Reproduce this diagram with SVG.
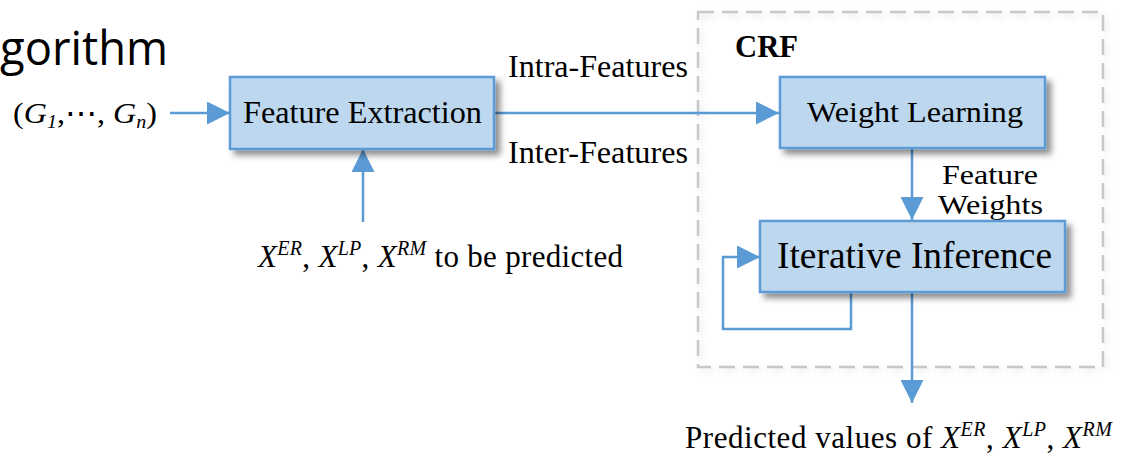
<svg xmlns="http://www.w3.org/2000/svg" width="1128" height="455" viewBox="0 0 1128 455">
<style>
.t{font-family:'Liberation Serif','DejaVu Serif','Times New Roman',serif;fill:#000}
.box{fill:#BDD7EE;stroke:#5B9BD5;stroke-width:2.5}
.ln{fill:none;stroke:#5B9BD5;stroke-width:2.5}
.i{font-style:italic}
</style>
<defs>
<filter id="sh" x="-10%" y="-20%" width="130%" height="150%">
<feDropShadow dx="5" dy="5" stdDeviation="3" flood-color="#000" flood-opacity="0.45"/>
</filter>
<filter id="sh2" x="-5%" y="-5%" width="110%" height="110%">
<feDropShadow dx="3" dy="3" stdDeviation="3" flood-color="#9bb0c8" flood-opacity="0.35"/>
</filter>
<marker id="ah" markerUnits="userSpaceOnUse" markerWidth="23" markerHeight="23" viewBox="0 0 23 23" refX="23" refY="11.5" orient="auto">
<path d="M0,0 L23,11.5 L0,23 Z" fill="#5B9BD5"/>
</marker>
</defs>
<rect width="1128" height="455" fill="#fff"/>
<text x="0" y="65" font-family="'Open Sans','Noto Sans',sans-serif" font-size="47" textLength="168" lengthAdjust="spacingAndGlyphs">gorithm</text>
<g id="crf">
<rect x="698" y="12" width="405" height="355" fill="none" stroke="#C8C8C8" stroke-width="2.5" stroke-dasharray="16,8" filter="url(#sh2)"/>
<text class="t" font-family="Liberation Serif, serif" x="735" y="57" font-size="31" font-weight="bold" textLength="63" lengthAdjust="spacingAndGlyphs">CRF</text>
</g>
<g id="connectors">
<line class="ln" x1="170" y1="113" x2="230" y2="113" marker-end="url(#ah)"/>
<line class="ln" x1="494" y1="113" x2="779" y2="113" marker-end="url(#ah)"/>
<line class="ln" x1="363" y1="222" x2="363" y2="149" marker-end="url(#ah)"/>
<line class="ln" x1="912" y1="148" x2="912" y2="220" marker-end="url(#ah)"/>
<polyline class="ln" points="851,292 851,329 723,329 723,257 760,257" marker-end="url(#ah)"/>
<line class="ln" x1="912" y1="292" x2="912" y2="403" marker-end="url(#ah)"/>
</g>
<g id="input">
<text class="t" font-family="Liberation Serif, serif" x="13" y="123" font-size="29" textLength="144" lengthAdjust="spacingAndGlyphs">(<tspan class="i">G</tspan><tspan class="i" font-size="18" dy="5">1</tspan><tspan dy="-5">,⋯, </tspan><tspan class="i">G</tspan><tspan class="i" font-size="18" dy="5">n</tspan><tspan dy="-5">)</tspan></text>
</g>
<g id="feature-extraction">
<rect class="box" x="230" y="77" width="264" height="72" filter="url(#sh)"/>
<text class="t" font-family="Liberation Serif, serif" x="243" y="123" font-size="31" textLength="239" lengthAdjust="spacingAndGlyphs">Feature Extraction</text>
</g>
<g id="labels">
<text class="t" font-family="Liberation Serif, serif" x="508" y="77" font-size="31" textLength="180" lengthAdjust="spacingAndGlyphs">Intra-Features</text>
<text class="t" font-family="Liberation Serif, serif" x="508" y="163" font-size="31" textLength="180" lengthAdjust="spacingAndGlyphs">Inter-Features</text>
<text class="t" font-family="Liberation Serif, serif" x="942" y="184" font-size="27" textLength="96" lengthAdjust="spacingAndGlyphs">Feature</text>
<text class="t" font-family="Liberation Serif, serif" x="938" y="214" font-size="27" textLength="105" lengthAdjust="spacingAndGlyphs">Weights</text>
</g>
<g id="weight-learning">
<rect class="box" x="780" y="77" width="265" height="71" filter="url(#sh)"/>
<text class="t" font-family="Liberation Serif, serif" x="807" y="122" font-size="30" textLength="216" lengthAdjust="spacingAndGlyphs">Weight Learning</text>
</g>
<g id="iterative-inference">
<rect class="box" x="760" y="221" width="305" height="71" filter="url(#sh)"/>
<text class="t" font-family="Liberation Serif, serif" x="777" y="268" font-size="37" textLength="275" lengthAdjust="spacingAndGlyphs">Iterative Inference</text>
</g>
<g id="to-predict">
<text class="t" font-family="Liberation Serif, serif" x="258" y="267" font-size="31" textLength="365" lengthAdjust="spacing"><tspan class="i">X</tspan><tspan class="i" font-size="20" dy="-12">ER</tspan><tspan dy="12">, </tspan><tspan class="i">X</tspan><tspan class="i" font-size="20" dy="-12">LP</tspan><tspan dy="12">, </tspan><tspan class="i">X</tspan><tspan class="i" font-size="20" dy="-12">RM</tspan><tspan dy="12"> to be predicted</tspan></text>
</g>
<g id="predicted">
<text class="t" font-family="Liberation Serif, serif" x="685" y="448" font-size="31" textLength="427" lengthAdjust="spacing">Predicted values of <tspan class="i">X</tspan><tspan class="i" font-size="20" dy="-12">ER</tspan><tspan dy="12">, </tspan><tspan class="i">X</tspan><tspan class="i" font-size="20" dy="-12">LP</tspan><tspan dy="12">, </tspan><tspan class="i">X</tspan><tspan class="i" font-size="20" dy="-12">RM</tspan></text>
</g>
</svg>
